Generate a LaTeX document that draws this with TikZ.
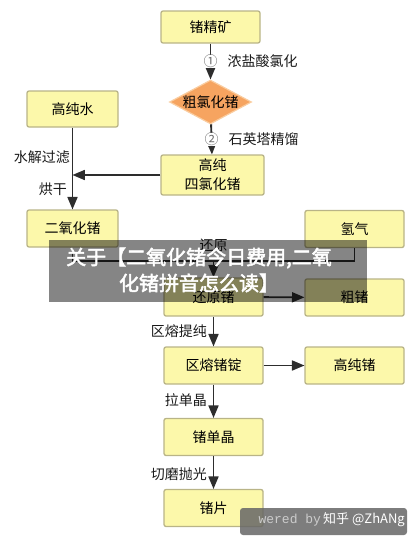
\documentclass[tikz,border=0pt]{standalone}
\usepackage{fontspec}
\setmainfont{Noto Sans CJK SC}
\newfontfamily\bannerfont[FakeBold=2.5]{Noto Sans CJK SC}
\newfontfamily\wmmono{Liberation Mono}
\usetikzlibrary{shapes.geometric}
\usetikzlibrary{arrows}
\usetikzlibrary{positioning}
\definecolor{boxfill}{RGB}{252,248,170}
\definecolor{boxline}{RGB}{185,180,135}
\definecolor{diafill}{RGB}{246,164,96}
\definecolor{dialine}{RGB}{250,205,160}
\definecolor{linegray}{RGB}{45,45,45}
\definecolor{numgray}{RGB}{110,110,110}
\tikzset{proc/.style={rectangle,rounded corners=2pt,fill=boxfill,draw=boxline,line width=1.3pt,
minimum width=99pt,minimum height=37pt,inner sep=0pt,font=\fontsize{14}{19}\selectfont},
inter/.style={diamond,fill=diafill,draw=dialine,line width=1.2pt,aspect=1.86,inner sep=0pt,
minimum width=82pt,minimum height=44pt,font=\fontsize{14}{14}\selectfont},
lbl/.style={inner sep=0pt,text=black!90,font=\fontsize{14}{14}\selectfont},
num/.style={rectangle,fill=white,inner sep=0pt,text=numgray,font=\fontsize{14}{14}\selectfont},
wire/.style={draw=linegray,line width=1.9pt},
flow/.style={wire,->},
>={triangle 45}}

\begin{document}
\begin{tikzpicture}[x=1pt,y=-1pt]
  \useasboundingbox (0,0) rectangle (418,541);

  \node (ore) [proc,minimum height=32pt] at (210.5,27) {锗精矿};
  \node (crude) [inter] at (210.5,102) {粗氯化锗};
  \node (water) [proc,minimum width=91pt,minimum height=36pt] at (72.5,109) {高纯水};
  \node (gecl4) [proc,minimum width=103pt,minimum height=40pt,align=center] at (212.5,175) {高纯\\四氯化锗};
  \node (geo2) [proc,minimum width=91pt] at (72.5,228.5) {二氧化锗};
  \node (h2) [proc] at (354.5,229) {氢气};
  \node (ge) [proc,minimum height=38pt] at (213.5,297) {还原锗};
  \node (crudege) [proc] at (354.5,297.5) {粗锗};
  \node (zone) [proc] at (213.5,365.5) {区熔锗锭};
  \node (pure) [proc] at (354.5,365.5) {高纯锗};
  \node (xtal) [proc] at (213.5,437) {锗单晶};
  \node (wafer) [proc] at (213.5,508) {锗片};

  \draw [flow] (ore) -- (crude) node (n1) [num,midway] {①};
  \node (chlor) [lbl,right=9pt of n1] {浓盐酸氯化};
  \draw [flow] (crude) -- (gecl4) node (n2) [num,midway] {②};
  \node (still) [lbl,right=9pt of n2] {石英塔精馏};

  \draw [flow] (water) -- (geo2);
  \node (hydro) [lbl,anchor=east] at (70,157) {水解过滤};
  \node (dry) [lbl,anchor=east] at (67,189) {烘干};
  \draw [flow] (gecl4) -- (gecl4.west -| water.south);

  \coordinate (join) at (213.5,261);
  \draw [wire] (geo2) |- (join);
  \draw [wire] (h2) |- (join);
  \draw [flow] (join) -- (ge);
  \node (redu) [lbl,above=9pt of join] {还原};

  \draw [flow] (ge) -- (crudege);
  \draw [flow] (ge) -- (zone);
  \node (zmelt) [lbl,anchor=east] at (207,331) {区熔提纯};
  \draw [flow] (zone) -- (pure);
  \draw [flow] (zone) -- (xtal);
  \node (pull) [lbl,anchor=east] at (207,400) {拉单晶};
  \draw [flow] (xtal) -- (wafer);
  \node (cut) [lbl,anchor=east] at (207,474) {切磨抛光};

  % overlays
  \node (banner) [fill=black,fill opacity=.48,minimum width=318pt,minimum height=62pt] at (208,271) {};
  \node (bannertxt) [text=white,align=center,font=\bannerfont\fontsize{20}{26}\selectfont] at (199,270)
    {关于【二氧化锗今日费用,二氧\\化锗拼音怎么读】};
  \node (wm) [fill=black!60,fill opacity=.85,rounded corners=3pt,minimum width=167pt,minimum height=27pt] at (323.5,521.5) {};
  \node (wmtxt) [anchor=east,inner sep=0pt] at (405,520)
    {\textcolor{white!80!black}{\wmmono\fontsize{13}{13}\selectfont wered by} \textcolor{white}{\fontsize{13}{13}\selectfont 知乎 @ZhANg}};
\end{tikzpicture}
\end{document}
